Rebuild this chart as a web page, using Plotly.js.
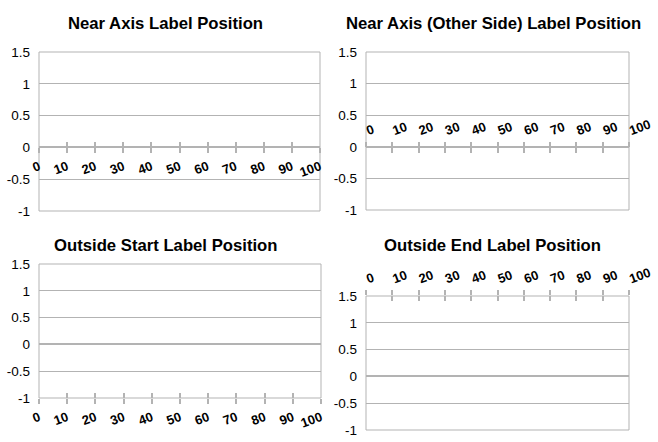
<!DOCTYPE html>
<html>
<head>
<meta charset="utf-8">
<script src="https://cdn.plot.ly/plotly-3.0.1.min.js"></script>
<style>
  html, body { margin: 0; padding: 0; background: #fff; }
  #graph { width: 658px; height: 442px; }
</style>
</head>
<body>
<div id="graph"></div>
<script>
// values
const xTicks = [0, 10, 20, 30, 40, 50, 60, 70, 80, 90, 100];
const yTicks = [-1, -0.5, 0, 0.5, 1, 1.5];
const yTickText = ['-1', '-0.5', '0', '0.5', '1', '1.5'];
const panelTitles = [
    'Near Axis Label Position',
    'Near Axis (Other Side) Label Position',
    'Outside Start Label Position',
    'Outside End Label Position'
];
// where the category axis crosses / where its labels go
const labelPositions = ['near', 'other', 'start', 'end'];

const W = 658, H = 442;
const GRID = '#b3b3b3';
const FONT = 'Liberation Sans, Arial, sans-serif';

// plot boxes in pixels: [left, right, top(1.5), bottom(-1)]
const boxes = [
    [39, 320, 52, 211],
    [366, 629, 52, 210],
    [39, 321, 264, 398],
    [366, 629, 296, 430]
];
const titleSpots = [[165, 23], [493, 23], [165, 245], [492, 245]];

const layout = {
    width: W,
    height: H,
    margin: {l: 0, r: 0, t: 0, b: 0, pad: 0},
    paper_bgcolor: '#fff',
    plot_bgcolor: '#fff',
    showlegend: false,
    font: {family: FONT, size: 13, color: '#000'},
    annotations: [],
    shapes: []
};
const traces = [];

const yMin = yTicks[0], yMax = yTicks[yTicks.length - 1];
const zeroFrac = (0 - yMin) / (yMax - yMin);

// plotly names the first axis pair 'xaxis'/'yaxis', refs 'x'/'y'
const axKey = (c, n) => c + 'axis' + (n === 1 ? '' : n);
const axRef = (c, n) => c + (n === 1 ? '' : n);

boxes.forEach((b, i) => {
    const n = i + 1;
    const m = n + 4;
    const xd = [b[0] / W, b[1] / W];
    const yd = [1 - b[3] / H, 1 - b[2] / H];
    const pos = labelPositions[i];

    layout[axKey('y', n)] = {
        domain: yd,
        anchor: axRef('x', n),
        range: [yMin, yMax],
        tickvals: yTicks,
        ticktext: yTickText,
        ticks: '',
        ticklabelstandoff: 8,
        showgrid: true,
        gridcolor: GRID,
        gridwidth: 1,
        zeroline: true,
        zerolinecolor: GRID,
        zerolinewidth: 2,
        showline: false,
        tickfont: {family: FONT, size: 13.5, color: '#000'},
        fixedrange: true
    };

    const base = {
        domain: xd,
        range: [xTicks[0], xTicks[xTicks.length - 1]],
        tickvals: xTicks,
        showgrid: false,
        zeroline: false,
        showline: false,
        tickcolor: GRID,
        tickwidth: 2,
        ticklen: 5,
        fixedrange: true
    };
    if (pos === 'near' || pos === 'other') {
        base.anchor = 'free';
        base.position = yd[0] + zeroFrac * (yd[1] - yd[0]);
        base.side = pos === 'near' ? 'bottom' : 'top';
    } else {
        base.anchor = axRef('y', n);
        base.side = pos === 'start' ? 'bottom' : 'top';
    }

    // labelled axis, ticks outside
    layout[axKey('x', n)] = Object.assign({}, base, {
        ticks: 'outside',
        tickangle: -20,
        ticklabelstandoff: 1,
        tickfont: {family: FONT, size: 13, color: '#000', weight: 'bold'}
    });
    // twin axis for the inside half of the crossing ticks
    layout[axKey('x', m)] = Object.assign({}, base, {
        overlaying: axRef('x', n),
        matches: axRef('x', n),
        ticks: 'inside',
        showticklabels: false
    });

    traces.push({type: 'scatter', mode: 'lines', x: [], y: [], xaxis: axRef('x', n), yaxis: axRef('y', n), hoverinfo: 'skip'});
    traces.push({type: 'scatter', mode: 'lines', x: [], y: [], xaxis: axRef('x', m), yaxis: axRef('y', n), hoverinfo: 'skip'});

    // plot frame: outer grid lines + both side lines
    layout.shapes.push({
        type: 'rect', layer: 'below',
        xref: axRef('x', n) + ' domain', yref: axRef('y', n) + ' domain',
        x0: 0, x1: 1, y0: 0, y1: 1,
        line: {color: GRID, width: 1}
    });

    layout.annotations.push({
        text: panelTitles[i],
        xref: 'paper', yref: 'paper',
        x: titleSpots[i][0] / W,
        y: 1 - titleSpots[i][1] / H,
        xanchor: 'center', yanchor: 'middle',
        showarrow: false,
        font: {family: FONT, size: 16.7, color: '#000', weight: 'bold'}
    });
});

Plotly.newPlot('graph', traces, layout, {displayModeBar: false, staticPlot: true});
</script>
</body>
</html>
